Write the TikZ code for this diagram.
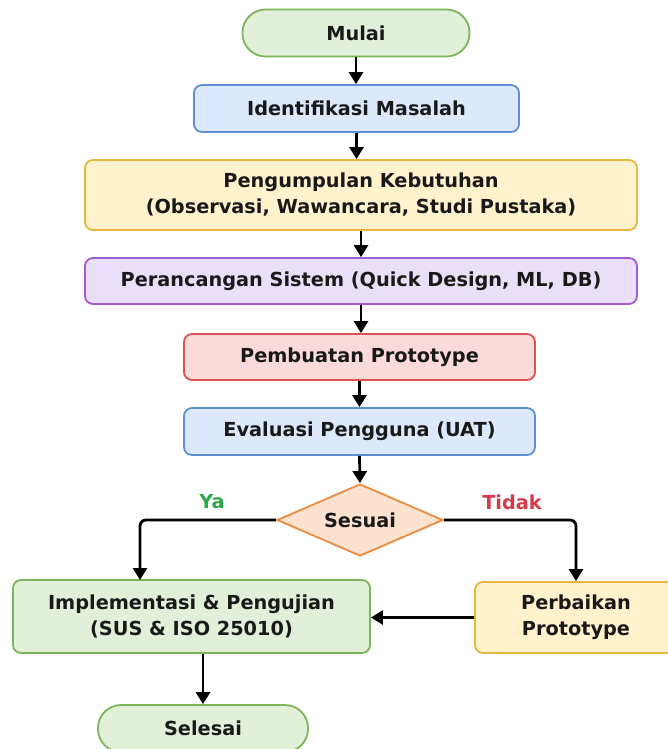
\documentclass[tikz,border=0pt]{standalone}
\usepackage{fontspec}
\setmainfont{DejaVu Sans}
\usetikzlibrary{shapes.geometric,arrows.meta}
\definecolor{gfill}{HTML}{E2F0D9}
\definecolor{gline}{HTML}{7CB55A}
\definecolor{bfill}{HTML}{DCE9FA}
\definecolor{bline}{HTML}{5E8FD0}
\definecolor{yfill}{HTML}{FFF2CC}
\definecolor{yline}{HTML}{E3B740}
\definecolor{pfill}{HTML}{EADFF8}
\definecolor{pline}{HTML}{A05CD0}
\definecolor{rfill}{HTML}{FADADA}
\definecolor{rline}{HTML}{D9534F}
\definecolor{ofill}{HTML}{FDE3CF}
\definecolor{oline}{HTML}{EE8A3C}
\definecolor{yagreen}{HTML}{2EA84A}
\definecolor{tidakred}{HTML}{D63A4A}
\tikzset{
  txt/.style={font=\fontsize{19.3}{26}\selectfont\bfseries, align=center, text=black!90},
  box/.style={txt, draw, line width=1.8pt, rounded corners=8pt, inner sep=0pt},
  term/.style={box, rounded corners=23pt, fill=gfill, draw=gline},
  flow/.style={line width=2.8pt, -{Triangle[width=14pt,length=12pt]}, rounded corners=6pt},
}
\begin{document}
\begin{tikzpicture}[x=1pt,y=-1pt]
\clip (0,0) rectangle (668,749);
\fill[white] (0,0) rectangle (668,749);
\node[term, minimum width=227pt, minimum height=47pt] (mulai) at (356,33) {Mulai};
\node[box, fill=bfill, draw=bline, minimum width=325pt, minimum height=47pt] (iden) at (356.5,108.5) {Identifikasi Masalah};
\node[box, fill=yfill, draw=yline, minimum width=552pt, minimum height=70pt] (kumpul) at (361,195) {Pengumpulan Kebutuhan\\(Observasi, Wawancara, Studi Pustaka)};
\node[box, fill=pfill, draw=pline, minimum width=552pt, minimum height=46pt] (rancang) at (361,281) {Perancangan Sistem (Quick Design, ML, DB)};
\node[box, fill=rfill, draw=rline, minimum width=351pt, minimum height=46pt] (buat) at (359.5,357) {Pembuatan Prototype};
\node[box, fill=bfill, draw=bline, minimum width=351pt, minimum height=47pt] (eval) at (359.5,431.5) {Evaluasi Pengguna (UAT)};
\node[txt, diamond, fill=ofill, draw=oline, line width=1.8pt, inner sep=0pt, aspect=2.3, minimum width=166pt, minimum height=72pt] (sesuai) at (360,520) {Sesuai};
\node[box, fill=gfill, draw=gline, minimum width=357pt, minimum height=73pt] (impl) at (191.5,616.5) {Implementasi \& Pengujian\\(SUS \& ISO 25010)};
\node[box, fill=yfill, draw=yline, minimum width=202pt, minimum height=71pt] (perb) at (576,617.5) {Perbaikan\\Prototype};
\node[term, minimum width=210pt, minimum height=47pt] (sel) at (203,728.5) {Selesai};
\node[txt, text=yagreen] (ya) at (212,502) {Ya};
\node[txt, text=tidakred] (tidak) at (512,502) {Tidak};
\coordinate (yaend) at (140,580);
\draw[flow] (mulai.south) -- (mulai.south |- iden.north);
\draw[flow] (iden.south) -- (iden.south |- kumpul.north);
\draw[flow] (kumpul.south) -- (kumpul.south |- rancang.north);
\draw[flow] (rancang.south) -- (rancang.south |- buat.north);
\draw[flow] (buat.south) -- (eval.north);
\draw[flow] (eval.south) -- (sesuai.north);
\draw[flow] (sesuai.west) -| (yaend);
\draw[flow] (sesuai.east) -| (perb.north);
\draw[flow] (perb.west) -- (perb.west -| impl.east);
\draw[flow] (sel.north |- impl.south) -- (sel.north);
\end{tikzpicture}
\end{document}
